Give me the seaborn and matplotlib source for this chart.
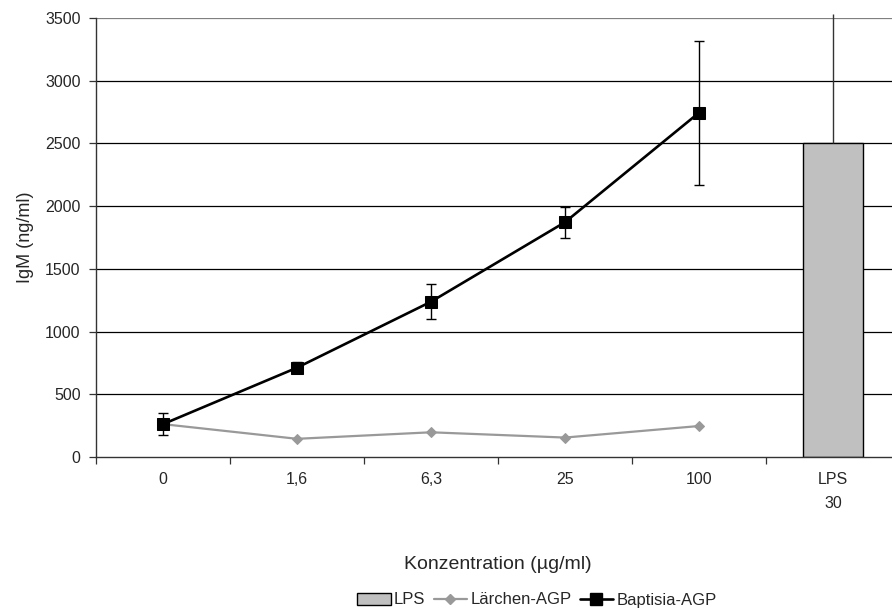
import matplotlib
matplotlib.use("Agg")
import matplotlib.pyplot as plt
import seaborn as sns
import pandas as pd
import numpy as np
from matplotlib.patches import Patch
from matplotlib.lines import Line2D

categories = ["0", "1,6", "6,3", "25", "100", "LPS\n30"]
conc_labels = ["0", "1,6", "6,3", "25", "100"]
baptisia = [262, 712, 1238, 1872, 2745]
baptisia_err = [90, 45, 138, 123, 575]
laerchen = [262, 145, 197, 155, 247]
lps_value = [2505]
lps_err = [1030]
yticks = [0, 500, 1000, 1500, 2000, 2500, 3000, 3500]

sns.set_theme(style="white")
plt.rcParams['font.family'] = ['Liberation Sans', 'DejaVu Sans']

fig = plt.figure(figsize=(8.92, 6.09), dpi=100)
ax = fig.add_axes([96/892, 1-457/609, 804/892, 439/609])

pos = {c: i for i, c in enumerate(categories)}
df_b = pd.DataFrame({"x": [pos[c] for c in conc_labels], "y": baptisia, "err": baptisia_err})
df_l = pd.DataFrame({"x": [pos[c] for c in conc_labels], "y": laerchen})
df_lps = pd.DataFrame({"x": [pos[categories[-1]]], "y": lps_value, "err": lps_err})

# grid lines
for t in yticks[1:]:
    ax.axhline(t, color="#000000" if t < 3500 else "#808080", lw=0.9, zorder=0)

# LPS bar
ax.bar(df_lps["x"], df_lps["y"], width=0.455, color="#c0c0c0", edgecolor="black", lw=1.0, zorder=2)
ax.errorbar(df_lps["x"], df_lps["y"], yerr=[[0], df_lps["err"]], fmt="none", ecolor="#333333",
            elinewidth=1.0, capsize=0, zorder=2, clip_on=False)

# Lärchen line
sns.lineplot(data=df_l, x="x", y="y", ax=ax, color="#999999", lw=1.6, marker="D",
             markersize=5.5, markeredgecolor="#999999", zorder=3, legend=False)
# Baptisia line
ax.errorbar(df_b["x"], df_b["y"], yerr=df_b["err"], fmt="none", ecolor="black",
            elinewidth=1.0, capsize=3.8, capthick=1.0, zorder=4)
sns.lineplot(data=df_b, x="x", y="y", ax=ax, color="black", lw=1.9, marker="s",
             markersize=8, markeredgecolor="black", zorder=5, legend=False)

ax.set_xlim(-0.5, len(categories) - 0.5)
ax.set_ylim(0, 3500)
ax.set_yticks(yticks)
ax.set_yticklabels([str(t) for t in yticks], fontsize=11.5)
ax.set_xticks(np.arange(len(categories)) - 0.5)
ax.set_xticklabels([])
ax.set_xticks(np.arange(len(categories)), minor=True)
ax.set_xticklabels(categories, minor=True, fontsize=11.5, linespacing=1.75)
ax.tick_params(axis="x", which="major", direction="out", length=5, width=0.9, color="#333333", bottom=True)
ax.tick_params(axis="x", which="minor", length=0, pad=11, bottom=True)
ax.tick_params(axis="y", direction="out", length=5, width=0.9, color="#333333", left=True, pad=6)

for s in ["top", "right"]:
    ax.spines[s].set_visible(False)
for s in ["left", "bottom"]:
    ax.spines[s].set_color("#333333")
    ax.spines[s].set_linewidth(1.0)

ax.set_xlabel("Konzentration (µg/ml)", fontsize=14, labelpad=32)
ax.set_ylabel("IgM (ng/ml)", fontsize=13, labelpad=8)

handles = [
    Patch(facecolor="#c0c0c0", edgecolor="black", lw=1.0),
    Line2D([], [], color="#999999", lw=1.6, marker="D", markersize=5.5),
    Line2D([], [], color="black", lw=1.9, marker="s", markersize=8),
]
fig.legend(handles, ["LPS", "Lärchen-AGP", "Baptisia-AGP"], loc="center",
           bbox_to_anchor=(537/892, 1-600/609), ncol=3, frameon=False, fontsize=12,
           handlelength=2.0, handletextpad=0.2, columnspacing=0.5)

fig.savefig("out.png", dpi=100)
